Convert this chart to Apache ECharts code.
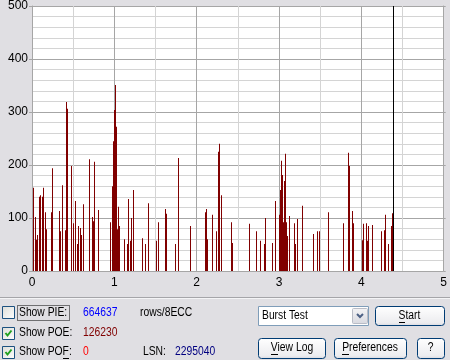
<!DOCTYPE html>
<html>
<head>
<meta charset="utf-8">
<script src="https://cdn.jsdelivr.net/npm/echarts@6/dist/echarts.min.js"></script>
<style>
html,body{margin:0;padding:0;background:#E0DFE3;}
#chart{width:450px;height:360px;}
</style>
</head>
<body>
<div id="chart"></div>
<script>
// ---- data ----
const xTickValues = [0, 1, 2, 3, 4, 5];
const yTickValues = [0, 100, 200, 300, 400, 500];
const poeX = [0.008,0.036,0.049,0.061,0.085,0.097,0.121,0.134,0.158,0.170,
  0.231,0.243,0.328,0.340,0.364,0.401,0.413,0.425,0.474,0.498,
  0.522,0.546,0.559,0.583,0.595,0.619,0.692,0.729,0.741,0.753,
  0.801,0.947,0.971,0.984,0.996,1.008,1.020,1.032,1.044,1.056,
  1.117,1.154,1.166,1.190,1.202,1.226,1.336,1.372,1.409,1.502,
  1.530,1.615,1.627,1.736,1.773,1.919,2.101,2.113,2.125,2.186,
  2.234,2.259,2.271,2.295,2.417,2.429,2.635,2.720,2.769,2.817,
  2.829,2.914,2.951,2.999,3.012,3.024,3.036,3.048,3.060,3.072,
  3.085,3.097,3.121,3.182,3.194,3.218,3.279,3.412,3.461,3.485,
  3.594,3.777,3.837,3.849,3.886,3.898,4.007,4.019,4.056,4.068,
  4.080,4.129,4.238,4.274,4.286,4.323,4.359,4.371];
const poeY = [157,102,59,68,140,143,140,157,111,79,
  111,194,113,75,162,77,319,306,198,90,
  132,51,85,81,68,126,211,102,94,206,
  115,92,160,245,304,351,272,79,121,85,
  60,51,136,57,100,153,62,51,128,57,
  92,117,108,51,213,85,111,117,60,106,
  75,225,240,143,92,53,89,75,57,51,
  100,53,132,106,153,208,181,92,170,221,
  92,66,104,90,51,98,123,70,75,75,
  111,90,223,198,113,90,58,89,90,57,
  85,87,75,77,106,51,85,109];
const cursorX = [4.384];
const cursorY = [500];
const pieTotal = '664637';
const poeTotal = '126230';
const pofTotal = '0';
const lsnValue = '2295040';
const unitLabel = 'rows/8ECC';
const testMode = 'Burst Test';

// ---- helpers ----
const FONT_FAMILY = '"Liberation Sans", Arial, sans-serif';
const FONT = '12px ' + FONT_FAMILY;
const SX = 0.86; // horizontal compression to mimic a narrow UI face
const mctx = document.createElement('canvas').getContext('2d');
mctx.font = FONT;
const tw = s => mctx.measureText(s).width * SX;

function text(str, x, y, color, align) {
  return { type: 'text', z: 20, x: x, y: y, scaleX: SX, style: { text: str, x: 0, y: 0, fill: color || '#000', font: FONT, align: align || 'left', verticalAlign: 'middle' } };
}
function underline(str, x, y, align, idx) {
  const full = tw(str);
  let x0 = align === 'center' ? x - full / 2 : x;
  const before = tw(str.slice(0, idx));
  const w = tw(str.slice(0, idx + 1)) - before;
  return { type: 'line', z: 20, shape: { x1: Math.round(x0 + before), y1: y + 6.5, x2: Math.round(x0 + before + w), y2: y + 6.5 }, style: { stroke: '#000', lineWidth: 1 } };
}
function checkbox(x, y, checked) {
  const els = [{
    type: 'rect', z: 20, shape: { x: x + 0.5, y: y + 0.5, width: 12, height: 12 },
    style: { stroke: '#1C5180', lineWidth: 1, fill: new echarts.graphic.LinearGradient(0, 0, 1, 1, [{ offset: 0, color: '#DCDCD7' }, { offset: 1, color: '#FFFFFF' }]) }
  }];
  if (checked) {
    els.push({ type: 'polyline', z: 21, shape: { points: [[x + 3.5, y + 6], [x + 5.5, y + 8.5], [x + 9.5, y + 3.5]] }, style: { stroke: '#21A121', lineWidth: 2, fill: null } });
  }
  return els;
}
function button(x, y, w, h) {
  return {
    type: 'rect', z: 20, shape: { x: x + 0.5, y: y + 0.5, width: w, height: h, r: 3 },
    style: { stroke: '#003C74', lineWidth: 1, fill: new echarts.graphic.LinearGradient(0, 0, 0, 1, [{ offset: 0, color: '#FFFFFF' }, { offset: 0.85, color: '#ECECEF' }, { offset: 1, color: '#D6D5DC' }]) }
  };
}

const graphics = [];
// separator
graphics.push({ type: 'line', z: 20, shape: { x1: 0, y1: 297.5, x2: 450, y2: 297.5 }, style: { stroke: '#A5A5A9', lineWidth: 1 } });
graphics.push({ type: 'line', z: 20, shape: { x1: 0, y1: 298.5, x2: 450, y2: 298.5 }, style: { stroke: '#F4F4F6', lineWidth: 1 } });
// rows
const rowY = [313, 333, 352];
graphics.push(...checkbox(2, 306, false));
graphics.push(...checkbox(2, 327, true));
graphics.push(...checkbox(2, 346, true));
graphics.push(text('Show PIE:', 19, rowY[0]));
graphics.push({ type: 'rect', z: 20, shape: { x: 17.5, y: 305.5, width: 52, height: 15 }, style: { stroke: '#000', lineWidth: 1, lineDash: [1, 1], fill: null } });
graphics.push(text(pieTotal, 83, rowY[0], '#0000FF'));
graphics.push(text(unitLabel, 140, rowY[0], '#000'));
graphics.push(text('Show POE:', 19, rowY[1]));
graphics.push(text(poeTotal, 83, rowY[1], '#800000'));
graphics.push(text('Show POF:', 19, rowY[2]));
graphics.push(underline('Show POF:', 19, rowY[2], 'left', 7));
graphics.push(text(pofTotal, 83, rowY[2], '#FF0000'));
graphics.push(text('LSN:', 143, rowY[2], '#000'));
graphics.push(text(lsnValue, 175, rowY[2], '#000080'));
// dropdown
graphics.push({ type: 'rect', z: 20, shape: { x: 258.5, y: 306.5, width: 110, height: 19 }, style: { stroke: '#7F9DB9', fill: '#FFFFFF', lineWidth: 1 } });
graphics.push({ type: 'rect', z: 21, shape: { x: 352.5, y: 308.5, width: 15, height: 15, r: 1 }, style: { stroke: '#B9BCC6', fill: new echarts.graphic.LinearGradient(0, 0, 0, 1, [{ offset: 0, color: '#F4F4F6' }, { offset: 1, color: '#D8D9E0' }]), lineWidth: 1 } });
graphics.push({ type: 'polyline', z: 22, shape: { points: [[357, 314], [360, 317], [363, 314]] }, style: { stroke: '#4D6185', lineWidth: 2, fill: null } });
graphics.push(text(testMode, 262, 316));
// buttons
graphics.push(button(375, 306, 69, 19));
graphics.push(text('Start', 409.5, 316, '#000', 'center'));
graphics.push(underline('Start', 409.5, 316, 'center', 0));
graphics.push(button(258, 338, 67, 20));
graphics.push(text('View Log', 292, 348, '#000', 'center'));
graphics.push(underline('View Log', 292, 348, 'center', 0));
graphics.push(button(334, 338, 72, 20));
graphics.push(text('Preferences', 370, 348, '#000', 'center'));
graphics.push(underline('Preferences', 370, 348, 'center', 0));
graphics.push(button(417, 338, 27, 20));
graphics.push(text('?', 430.5, 348, '#000', 'center'));

const MAJOR = '#A6A6A6';
const MINOR = '#D4D4D4';

function barRenderer(color) {
  return function (params, api) {
    const top = api.coord([api.value(0), api.value(1)]);
    const base = api.coord([api.value(0), 0]);
    return {
      type: 'rect',
      shape: { x: Math.round(top[0]), y: top[1], width: 1, height: base[1] - top[1] },
      style: { fill: color }
    };
  };
}

const chart = echarts.init(document.getElementById('chart'), null, { renderer: 'canvas' });
chart.setOption({
  animation: false,
  backgroundColor: '#E0DFE3',
  textStyle: { fontFamily: FONT_FAMILY },
  grid: { left: 32, right: 6, top: 6, bottom: 89, show: true, backgroundColor: '#FFFFFF', borderWidth: 0 },
  xAxis: {
    type: 'value', min: xTickValues[0], max: xTickValues[xTickValues.length - 1], interval: 1,
    axisLine: { show: false }, axisTick: { show: false },
    axisLabel: { color: '#000', fontSize: 12, margin: 6, fontFamily: FONT_FAMILY, formatter: v => xTickValues.includes(v) ? String(v) : '' },
    splitLine: { show: true, lineStyle: { color: MAJOR, width: 1 } },
    minorTick: { show: false, splitNumber: 2 },
    minorSplitLine: { show: true, lineStyle: { color: MINOR, width: 1 } }
  },
  yAxis: [{
    type: 'value', min: yTickValues[0], max: yTickValues[yTickValues.length - 1], interval: 100,
    axisLine: { show: true, lineStyle: { color: MAJOR } },
    axisTick: { show: true, length: 3, lineStyle: { color: MAJOR } },
    axisLabel: { color: '#000', fontSize: 12, margin: 4, fontFamily: FONT_FAMILY, formatter: v => yTickValues.includes(v) ? String(v) : '' },
    splitLine: { show: true, lineStyle: { color: MAJOR, width: 1 } },
    minorTick: { show: false, splitNumber: 5 },
    minorSplitLine: { show: true, lineStyle: { color: MINOR, width: 1 } }
  }, {
    type: 'value', position: 'right', min: 0, max: 500, interval: 100,
    axisLine: { show: true, lineStyle: { color: MAJOR } },
    axisTick: { show: true, length: 2, lineStyle: { color: MAJOR } },
    axisLabel: { show: false }, splitLine: { show: false }
  }],
  series: [{
    name: 'POE', type: 'custom', clip: true,
    data: poeX.map((x, i) => [x, poeY[i]]),
    renderItem: barRenderer('#800000')
  }, {
    name: 'Position', type: 'custom', clip: true,
    data: cursorX.map((x, i) => [x, cursorY[i]]),
    renderItem: barRenderer('#000000')
  }],
  graphic: graphics
});
</script>
</body>
</html>
